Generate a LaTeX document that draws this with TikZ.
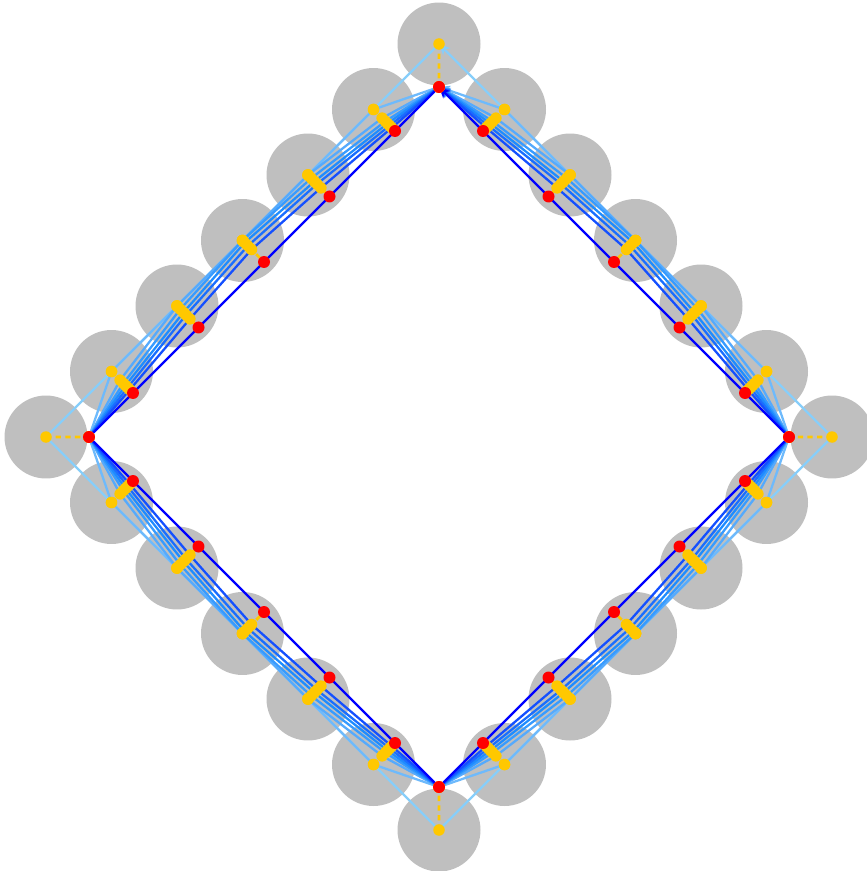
\documentclass[tikz,border=0pt]{standalone}
\usetikzlibrary{arrows.meta, calc}
\definecolor{cdisk}{RGB}{191,191,191}
\definecolor{cyellow}{RGB}{255,200,0}
\definecolor{cred}{RGB}{255,0,0}
\definecolor{cit0}{RGB}{135,206,250}
\definecolor{cit1}{RGB}{110,186,252}
\definecolor{cit2}{RGB}{85,170,253}
\definecolor{cit3}{RGB}{55,155,255}
\definecolor{cit4}{RGB}{30,140,255}
\definecolor{cit5}{RGB}{25,110,255}
\definecolor{cit6}{RGB}{20,80,255}
\definecolor{cit7}{RGB}{0,0,255}
\tikzset{
  disk/.style={circle, fill=cdisk, minimum size=1.66cm, inner sep=0pt},
  ydot/.style={circle, fill=cyellow, minimum size=0.23cm, inner sep=0pt},
  rdot/.style={circle, fill=cred, minimum size=0.24cm, inner sep=0pt},
  iterline/.style={draw=#1, line width=1.3pt, line join=round, -{Stealth[length=2.2mm, width=2mm]}},
  yline/.style={draw=cyellow, line width=1.6pt, dash pattern=on 3pt off 2.5pt},
}
% fraction of the way from disk centre to contact point, per iteration (k = 0..5)
\def\fracs{0,0,0,0,0,0, 1,0,0,0,0,0, 1,.4,0,0,0,.4, 1,.55,.15,0,.15,.55, 1,.65,.3,.1,.3,.65, 1,.75,.42,.25,.42,.75, 1,.85,.6,.42,.6,.85, 1,1,1,1,1,1}

\begin{document}
\begin{tikzpicture}[x=0.02cm, y=-0.02cm]
  \useasboundingbox (0,0) rectangle (866,871);
  \coordinate (o) at (439,437);
  \coordinate (q-0) at (439,44);
  \coordinate (q-1) at (46,437);
  \coordinate (q-2) at (439,830);
  \coordinate (q-3) at (832,437);
  \foreach \j in {0,...,3} \coordinate (iq-\j) at ($(q-\j)!0.1094!(o)$);

  % disk centres and contact points
  \foreach \i in {0,...,23}{
    \pgfmathtruncatemacro\j{int(\i/6)}
    \pgfmathtruncatemacro\k{mod(\i,6)}
    \pgfmathtruncatemacro\jn{mod(\j+1,4)}
    \pgfmathsetmacro\s{\k/6}
    \coordinate (c-\i) at ($(q-\j)!\s!(q-\jn)$);
    \ifnum\k=0
      \coordinate (r-\i) at (iq-\j);
    \else
      \coordinate (r-\i) at ($(iq-\j)!(c-\i)!(iq-\jn)$);
    \fi
  }

  % iterates
  \foreach \t in {0,...,7}{
    \foreach \i in {0,...,23}{
      \pgfmathtruncatemacro\k{mod(\i,6)}
      \pgfmathsetmacro\f{{\fracs}[\t*6+\k]}
      \coordinate (p-\t-\i) at ($(c-\i)!\f!(r-\i)$);
    }
  }

  \foreach \i in {0,...,23} \node[disk] (d-\i) at (c-\i) {};

  \foreach \t in {0,...,7}
    \draw[iterline=cit\t] (p-\t-0) \foreach \i in {1,...,23}{ -- (p-\t-\i)} -- (p-\t-0);

  \foreach \i in {0,...,23} \draw[yline] (c-\i) -- (r-\i);
  \foreach \t in {0,...,6}
    \foreach \i in {0,...,23} \node[ydot] (y-\t-\i) at (p-\t-\i) {};
  \foreach \i in {0,...,23} \node[rdot] (rd-\i) at (r-\i) {};
\end{tikzpicture}
\end{document}
